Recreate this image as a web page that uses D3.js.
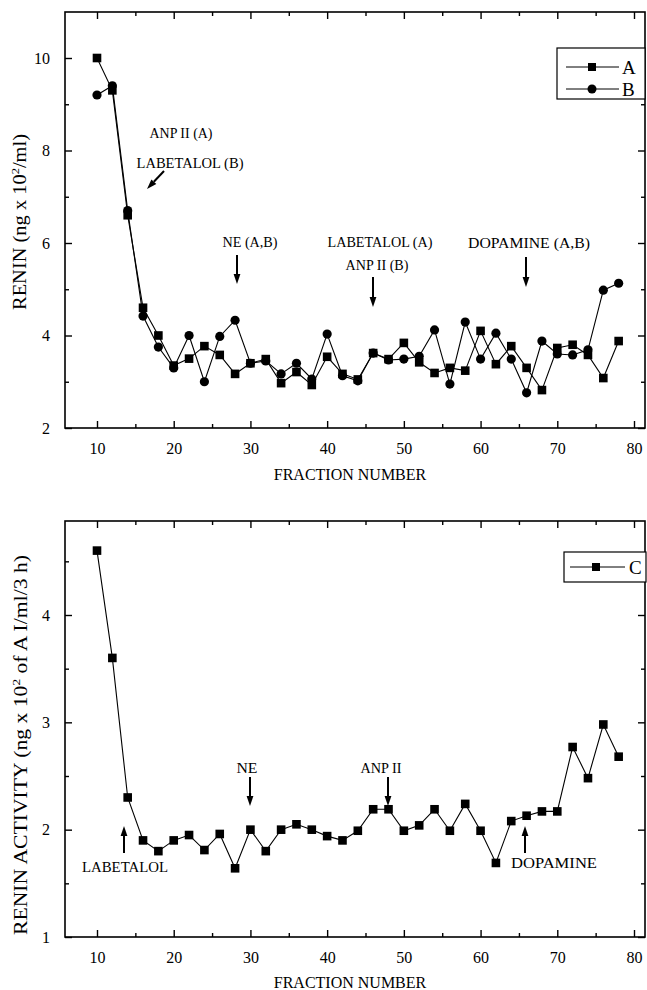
<!DOCTYPE html>
<html><head><meta charset="utf-8">
<script src="https://cdn.jsdelivr.net/npm/d3@7"></script>
<style>
body{margin:0;background:#fff}
svg text{font-family:"Liberation Serif","Tinos","Times New Roman","DejaVu Serif",serif;fill:#000}
</style>
</head><body>
<svg id="c" width="647" height="990"></svg>
<script>
// ---- data ----
const fractions = [10,12,14,16,18,20,22,24,26,28,30,32,34,36,38,40,42,44,46,48,50,52,54,56,58,60,62,64,66,68,70,72,74,76,78];
const reninA = [10.0,9.3,6.6,4.6,4.0,3.35,3.5,3.77,3.58,3.17, 3.4,3.49,2.97,3.21,2.93,3.54,3.17,3.05,3.62,3.49, 3.84,3.42,3.19,3.3,3.24,4.1,3.38,3.77,3.3,2.82, 3.73,3.8,3.58,3.08,3.88];
const reninB = [9.2,9.4,6.7,4.42,3.75,3.3,4.0,3.0,3.98,4.33, 3.4,3.45,3.17,3.4,3.06,4.03,3.13,3.02,3.62,3.47, 3.49,3.55,4.12,2.95,4.29,3.49,4.05,3.49,2.76,3.88, 3.6,3.58,3.69,4.98,5.13];
const activityC = [4.6,3.6,2.3,1.9,1.8,1.9,1.95,1.81,1.96,1.64, 2.0,1.8,2.0,2.05,2.0,1.94,1.9,1.99,2.19,2.19, 1.99,2.04,2.19,1.99,2.24,1.99,1.69,2.08,2.13,2.17, 2.17,2.77,2.48,2.98,2.68];
const xTicks = [10,20,30,40,50,60,70,80];
const xMinorTicks = [15,25,35,45,55,65,75];
const topYTicks = [2,4,6,8,10];
const topYMinor = [3,5,7,9];
const botYTicks = [1,2,3,4];
const botYMinor = [1.5,2.5,3.5,4.5];

const svg = d3.select("#c");
const FRAME_L = 65, FRAME_R = 645;
const x = d3.scaleLinear().domain([10,80]).range([97,634]);

function panel(o){
  const y = d3.scaleLinear().domain(o.yDom).range(o.yRange);
  const g = svg.append("g");
  const top = o.top, bot = o.bottom;
  g.append("rect").attr("x",FRAME_L).attr("y",top).attr("width",FRAME_R-FRAME_L).attr("height",bot-top)
    .attr("fill","none").attr("stroke","#000").attr("stroke-width",1.6);
  g.append("g").attr("transform",`translate(0,${bot})`)
    .call(d3.axisBottom(x).tickValues(xTicks).tickSize(-7).tickPadding(15).tickFormat(d3.format("d")));
  g.append("g").attr("transform",`translate(0,${bot})`).call(d3.axisBottom(x).tickValues(xMinorTicks).tickSize(-4).tickFormat(""));
  g.append("g").attr("transform",`translate(0,${top})`).call(d3.axisTop(x).tickValues(xTicks).tickSize(-7).tickFormat(""));
  g.append("g").attr("transform",`translate(0,${top})`).call(d3.axisTop(x).tickValues(xMinorTicks).tickSize(-4).tickFormat(""));
  g.append("g").attr("transform",`translate(${FRAME_L},0)`)
    .call(d3.axisLeft(y).tickValues(o.yTicks).tickSize(-7).tickPadding(15).tickFormat(d3.format("d")));
  g.append("g").attr("transform",`translate(${FRAME_L},0)`).call(d3.axisLeft(y).tickValues(o.yMinor).tickSize(-4).tickFormat(""));
  g.append("g").attr("transform",`translate(${FRAME_R},0)`).call(d3.axisRight(y).tickValues(o.yTicks).tickSize(-7).tickFormat(""));
  g.append("g").attr("transform",`translate(${FRAME_R},0)`).call(d3.axisRight(y).tickValues(o.yMinor).tickSize(-4).tickFormat(""));
  g.selectAll(".domain").remove();
  g.selectAll(".tick line").attr("stroke","#000").attr("stroke-width",1.4);
  g.selectAll(".tick text").attr("font-size",16);
  g.append("text").attr("x",350).attr("y",bot+o.xtOff).attr("text-anchor","middle").attr("font-size",16).text("FRACTION NUMBER");
  g.append("text").attr("transform",`translate(${o.ytx},${o.yty}) rotate(-90)`).attr("text-anchor","middle")
    .attr("font-size",18).attr("textLength",o.ytLen).attr("lengthAdjust","spacingAndGlyphs").html(o.ytitle);
  return y;
}

function line(y, vals){
  svg.append("path").datum(vals).attr("fill","none").attr("stroke","#000").attr("stroke-width",1.1)
    .attr("d", d3.line().x((d,i)=>x(fractions[i])).y(d=>y(d)));
}
function squares(y, vals){
  svg.append("g").selectAll("rect").data(vals).join("rect")
    .attr("x",(d,i)=>x(fractions[i])-4.3).attr("y",d=>y(d)-4.3).attr("width",8.6).attr("height",8.6).attr("fill","#000");
}
function circles(y, vals){
  svg.append("g").selectAll("circle").data(vals).join("circle")
    .attr("cx",(d,i)=>x(fractions[i])).attr("cy",d=>y(d)).attr("r",4.6).attr("fill","#000");
}
function label(tx,ty,t,len,anchor){
  const el = svg.append("text").attr("x",tx).attr("y",ty).attr("text-anchor",anchor||"middle").attr("font-size",14).text(t);
  if(len) el.attr("textLength",len).attr("lengthAdjust","spacingAndGlyphs");
}
function arrow(x1,y1,x2,y2){
  const ang = Math.atan2(y2-y1,x2-x1);
  const L = 10, W = 3.4;
  const bx = x2 - L*Math.cos(ang), by = y2 - L*Math.sin(ang);
  svg.append("line").attr("x1",x1).attr("y1",y1).attr("x2",bx).attr("y2",by).attr("stroke","#000").attr("stroke-width",2);
  svg.append("path").attr("d",`M${x2},${y2}L${bx+W*Math.sin(ang)},${by-W*Math.cos(ang)}L${bx-W*Math.sin(ang)},${by+W*Math.cos(ang)}Z`).attr("fill","#000");
}

// ---- top panel ----
const yT = panel({yDom:[2,10],yRange:[428,58],top:12,bottom:428,yTicks:topYTicks,yMinor:topYMinor,xtOff:52,
  ytx:26,yty:222,ytLen:176,ytitle:'RENIN (ng x 10<tspan dy="-7" font-size="11">2</tspan><tspan dy="7">/ml)</tspan>'});
line(yT, reninB); line(yT, reninA);
circles(yT, reninB); squares(yT, reninA);

label(181,138,"ANP II (A)",63); label(190,168,"LABETALOL (B)",107);
arrow(164,171,147,189);
label(250,247,"NE (A,B)",55); arrow(237,255,237,284);
label(380,247,"LABETALOL (A)",105); label(377,270,"ANP II (B)",63); arrow(373,277,373,307);
label(529,248,"DOPAMINE (A,B)",122); arrow(526,257,526,287);

// legend top
svg.append("rect").attr("x",557).attr("y",48).attr("width",88).attr("height",51).attr("fill","#fff").attr("stroke","#000").attr("stroke-width",1.2);
[["A",67,"sq"],["B",89,"ci"]].forEach(([t,ly,m])=>{
  svg.append("line").attr("x1",566).attr("x2",619).attr("y1",ly).attr("y2",ly).attr("stroke","#000");
  if(m==="sq") svg.append("rect").attr("x",588).attr("y",ly-4).attr("width",8).attr("height",8).attr("fill","#000");
  else svg.append("circle").attr("cx",592).attr("cy",ly).attr("r",4.5).attr("fill","#000");
  svg.append("text").attr("x",622).attr("y",ly+6.5).attr("font-size",19).text(t);
});

// ---- bottom panel ----
const yB = panel({yDom:[1,4],yRange:[937,615],top:521,bottom:937,yTicks:botYTicks,yMinor:botYMinor,xtOff:51,
  ytx:27,yty:745,ytLen:380,ytitle:'RENIN ACTIVITY (ng x 10<tspan dy="-7" font-size="11">2</tspan><tspan dy="7"> of A I/ml/3 h)</tspan>'});
line(yB, activityC); squares(yB, activityC);

label(82,872,"LABETALOL",86,"start"); arrow(124,853,124,826);
label(247,773,"NE",21); arrow(250,777,250,806);
label(381,773,"ANP II",41); arrow(388,777,388,806);
label(511,868,"DOPAMINE",86,"start"); arrow(525,853,525,826);

// legend bottom
svg.append("rect").attr("x",564).attr("y",552).attr("width",82).attr("height",30).attr("fill","#fff").attr("stroke","#000").attr("stroke-width",1.2);
svg.append("line").attr("x1",570).attr("x2",625).attr("y1",567).attr("y2",567).attr("stroke","#000");
svg.append("rect").attr("x",592).attr("y",563).attr("width",8).attr("height",8).attr("fill","#000");
svg.append("text").attr("x",629).attr("y",574).attr("font-size",19).text("C");
</script>
</body></html>
